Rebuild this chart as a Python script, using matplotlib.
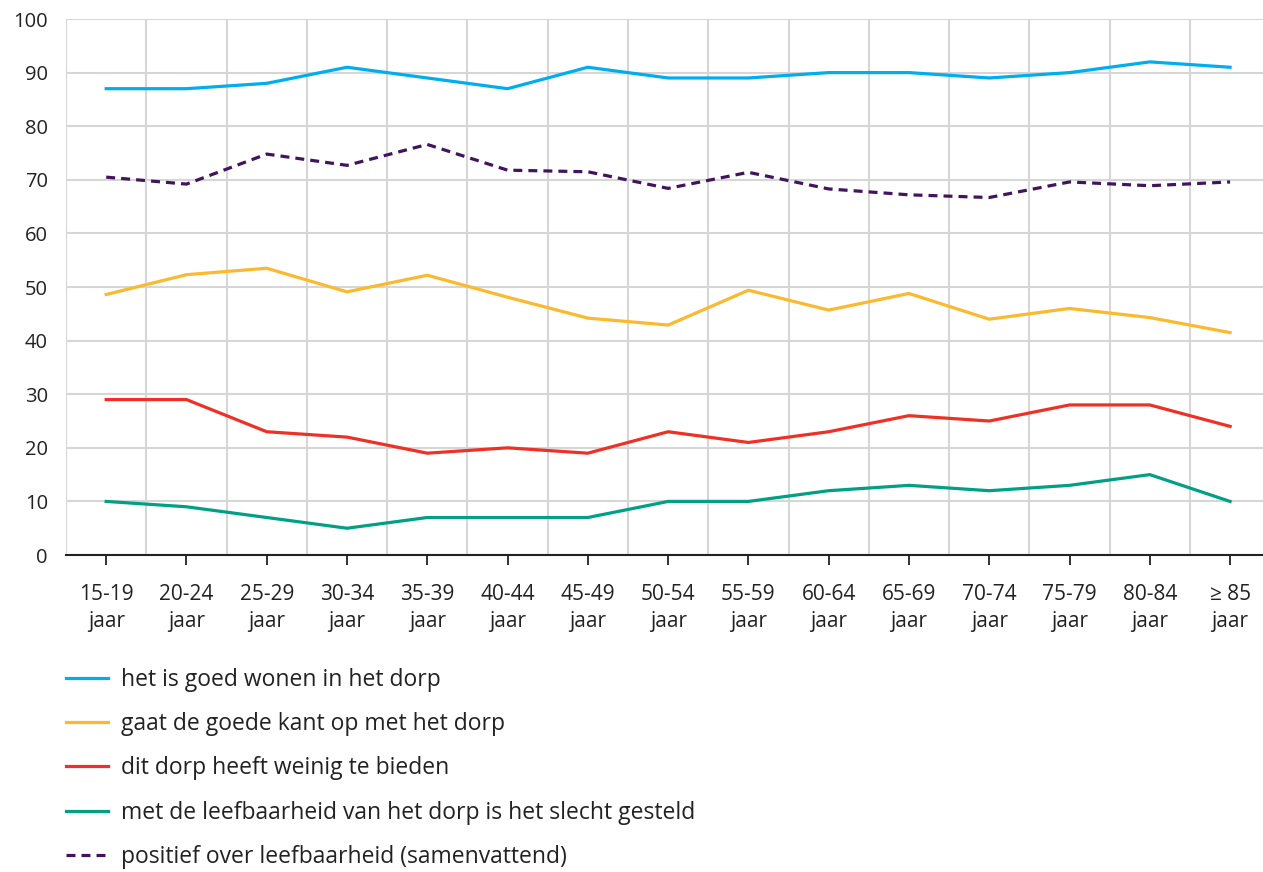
import matplotlib.pyplot as plt
from matplotlib.ticker import MultipleLocator

plt.rcParams['font.family'] = ['Open Sans', 'DejaVu Sans']

leeftijd = ['15-19\njaar', '20-24\njaar', '25-29\njaar', '30-34\njaar', '35-39\njaar',
            '40-44\njaar', '45-49\njaar', '50-54\njaar', '55-59\njaar', '60-64\njaar',
            '65-69\njaar', '70-74\njaar', '75-79\njaar', '80-84\njaar', '≥ 85\njaar']

goed_wonen = [87, 87, 88, 91, 89, 87, 91, 89, 89, 90, 90, 89, 90, 92, 91]
goede_kant = [48.6, 52.3, 53.5, 49.1, 52.2, 48.1, 44.2, 42.9, 49.4, 45.7, 48.8, 44.0, 46.0, 44.3, 41.5]
weinig_bieden = [29, 29, 23, 22, 19, 20, 19, 23, 21, 23, 26, 25, 28, 28, 24]
slecht_gesteld = [10, 9, 7, 5, 7, 7, 7, 10, 10, 12, 13, 12, 13, 15, 10]
positief = [70.5, 69.2, 74.8, 72.7, 76.6, 71.8, 71.5, 68.4, 71.4, 68.3, 67.2, 66.7, 69.6, 68.9, 69.6]

series = [
    ('het is goed wonen in het dorp', goed_wonen, '#00AEEF', '-'),
    ('gaat de goede kant op met het dorp', goede_kant, '#FDB92E', '-'),
    ('dit dorp heeft weinig te bieden', weinig_bieden, '#EE3124', '-'),
    ('met de leefbaarheid van het dorp is het slecht gesteld', slecht_gesteld, '#00A084', '-'),
    ('positief over leefbaarheid (samenvattend)', positief, '#42145F', (0, (2.8, 1.9))),
]

fig = plt.figure(figsize=(12.63, 8.72), dpi=100)
ax = fig.add_axes([0.0523, 0.3635, 0.9477, 0.6147])

x = list(range(len(leeftijd)))
for naam, waarden, kleur, stijl in series:
    ax.plot(x, waarden, color=kleur, linestyle=stijl, linewidth=2.3, label=naam)

ax.set_xticks(x)
ax.set_xticklabels(leeftijd, fontsize=15, color='#222222', linespacing=1.35)
ax.set_xticks([i + 0.5 for i in range(-1, 15)], minor=True)
ax.set_xlim(-0.5, 14.41)
ax.set_ylim(0, 100)
ax.yaxis.set_major_locator(MultipleLocator(10))
ax.tick_params(axis='y', length=0, pad=13, labelsize=14.5, labelcolor='#222222')
ax.tick_params(axis='x', which='major', length=7, width=1.3, color='#222222', pad=14)
ax.tick_params(axis='x', which='minor', length=0)

ax.grid(True, axis='y', color='#D6D6D6', linewidth=1.5)
ax.grid(True, axis='x', which='minor', color='#D6D6D6', linewidth=1.5)
ax.set_axisbelow(True)
for s in ['top', 'right', 'left']:
    ax.spines[s].set_visible(False)
ax.spines['bottom'].set_color('#222222')
ax.spines['bottom'].set_linewidth(1.5)

fig.legend(loc='upper left', bbox_to_anchor=(0.0396, 0.2523), frameon=False,
           fontsize=16.5, handlelength=1.83, handletextpad=0.57, labelspacing=0.88,
           borderpad=0.2, labelcolor='#222222')

fig.savefig('out.png', dpi=100)
